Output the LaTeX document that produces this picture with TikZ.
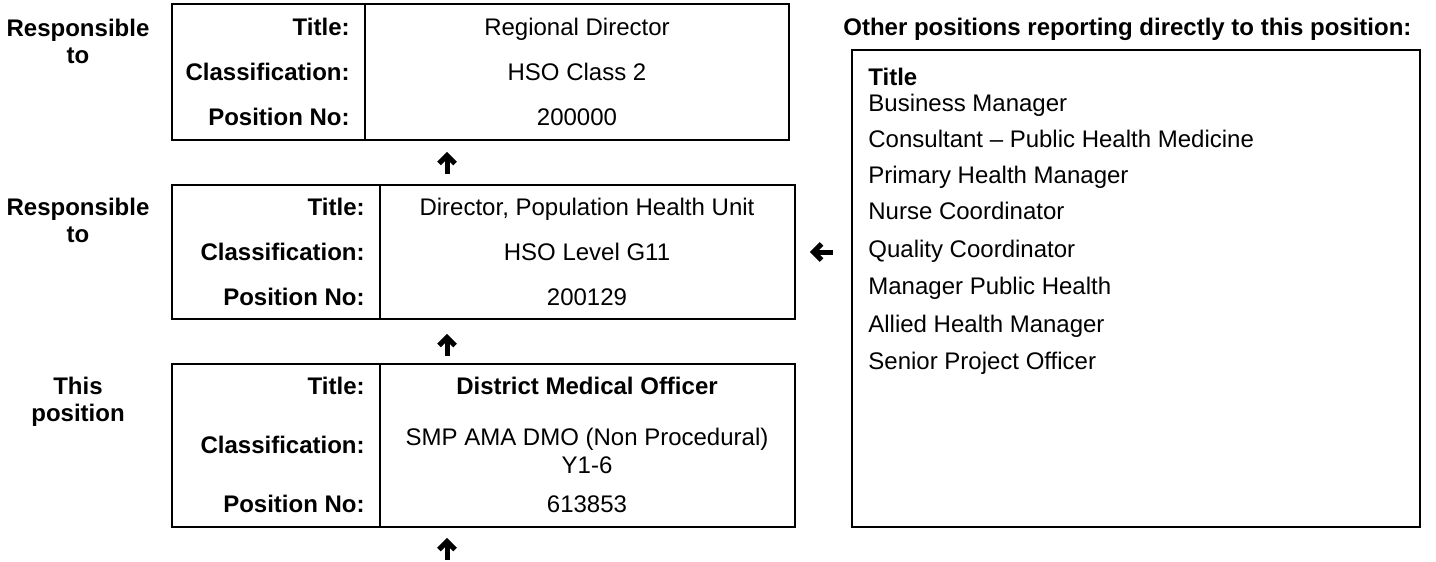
\documentclass[tikz,border=0pt]{standalone}
\usepackage{fontspec}
\setmainfont{Liberation Sans}
\usetikzlibrary{arrows.meta}
\begin{document}
\begin{tikzpicture}[x=0.5pt,y=-0.5pt,
  box/.style={draw=black,line width=1.1pt,inner sep=0pt,outer sep=0pt,anchor=north west},
  rule/.style={draw=black,line width=1.1pt},
  lbl/.style={anchor=base east,inner sep=0pt,font=\fontsize{12}{13.8}\selectfont\bfseries},
  val/.style={anchor=base,inner sep=0pt,font=\fontsize{12}{13.8}\selectfont},
  bval/.style={anchor=base,inner sep=0pt,font=\fontsize{12}{13.8}\selectfont\bfseries},
  side/.style={anchor=base,inner sep=0pt,font=\fontsize{12}{13.8}\selectfont\bfseries},
  item/.style={anchor=base west,inner sep=0pt,font=\fontsize{12}{13.8}\selectfont},
  bitem/.style={anchor=base west,inner sep=0pt,font=\fontsize{12}{13.8}\selectfont\bfseries},
  glyph/.style={draw=black,line width=2.5pt,line join=miter},
  uparr/.pic={\draw[glyph] (-8,-0.5) -- (0,-8.5) -- (8,-0.5); \draw[glyph] (0,-8) -- (0,10);},
  leftarr/.pic={\draw[glyph] (-0.5,-8) -- (-8.5,0) -- (-0.5,8); \draw[glyph] (-8,0) -- (11,0);}
]
\useasboundingbox (0,0) rectangle (1436,562);

% boxes
\node[box,minimum width=308.5pt,minimum height=68pt] (b1) at (172,4) {};
\node[box,minimum width=311.5pt,minimum height=67pt] (b2) at (172,185) {};
\node[box,minimum width=311.5pt,minimum height=81.5pt] (b3) at (172,364) {};
\node[box,minimum width=284pt,minimum height=238.5pt] (rb) at (852,50) {};
\draw[rule] (b1.north west -| 365,0) -- (b1.south west -| 365,0);
\draw[rule] (b2.north west -| 380,0) -- (b2.south west -| 380,0);
\draw[rule] (b3.north west -| 380,0) -- (b3.south west -| 380,0);

% side labels
\node[side] (s1a) at (78,36.5) {Responsible};
\node[side] (s1b) at (78,63) {to};
\node[side] (s2a) at (78,215.5) {Responsible};
\node[side] (s2b) at (78,242) {to};
\node[side] (s3a) at (78,394.5) {This};
\node[side] (s3b) at (78,421) {position};

% box 1
\node[lbl] (t1) at (350,35.5) {Title:};
\node[lbl] (c1) at (350,80.5) {Classification:};
\node[lbl] (p1) at (350,125.5) {Position No:};
\node[val] (tv1) at (577,35.5) {Regional Director};
\node[val] (cv1) at (577,80.5) {HSO Class 2};
\node[val] (pv1) at (577,125.5) {200000};

% box 2
\node[lbl] (t2) at (365,215.5) {Title:};
\node[lbl] (c2) at (365,260.5) {Classification:};
\node[lbl] (p2) at (365,305.5) {Position No:};
\node[val] (tv2) at (587,215.5) {Director, Population Health Unit};
\node[val] (cv2) at (587,260.5) {HSO Level G11};
\node[val] (pv2) at (587,305.5) {200129};

% box 3
\node[lbl] (t3) at (365,394.5) {Title:};
\node[lbl] (c3) at (365,453.5) {Classification:};
\node[lbl] (p3) at (365,512.5) {Position No:};
\node[bval] (tv3) at (587,394.5) {District Medical Officer};
\node[val] (cv3a) at (587,445.5) {SMP AMA DMO (Non Procedural)};
\node[val] (cv3b) at (587,473.5) {Y1-6};
\node[val] (pv3) at (587,512.5) {613853};

% arrows
\coordinate (a1) at (447,164);
\coordinate (a2) at (447,346);
\coordinate (a3) at (447,550);
\coordinate (la) at (822,252);
\pic at (a1) {uparr};
\pic at (a2) {uparr};
\pic at (a3) {uparr};
\pic at (la) {leftarr};

% right side
\node[bitem] (hdr) at (843,35) {Other positions reporting directly to this position:};
\node[bitem] (r0) at (868,85) {Title};
\node[item] (r1) at (868,111.5) {Business Manager};
\node[item] (r2) at (868,147.5) {Consultant – Public Health Medicine};
\node[item] (r3) at (868,183.5) {Primary Health Manager};
\node[item] (r4) at (868,219.5) {Nurse Coordinator};
\node[item] (r5) at (868,257) {Quality Coordinator};
\node[item] (r6) at (868,294.5) {Manager Public Health};
\node[item] (r7) at (868,332) {Allied Health Manager};
\node[item] (r8) at (868,369.5) {Senior Project Officer};
\end{tikzpicture}
\end{document}
